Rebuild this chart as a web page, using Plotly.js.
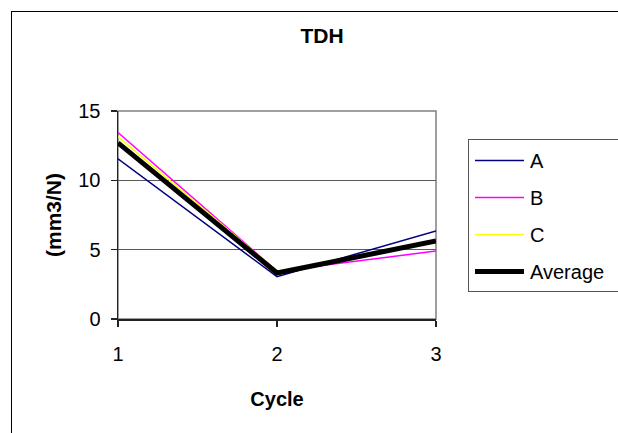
<!DOCTYPE html>
<html>
<head>
<meta charset="utf-8">
<script src="https://cdn.plot.ly/plotly-3.0.1.min.js"></script>
<style>
html,body{margin:0;padding:0;background:#fff;overflow:hidden;}
#wrap{position:relative;width:618px;height:433px;overflow:hidden;}
#chart{width:618px;height:433px;}
.frame{position:absolute;pointer-events:none;box-sizing:border-box;}
#outer{left:11px;top:11px;width:607px;height:422px;border-left:1px solid #000;border-top:1px solid #000;}
#legbox{left:468px;top:139px;width:150px;height:153px;border-left:1px solid #555;border-top:1px solid #555;border-bottom:1px solid #555;}
</style>
</head>
<body>
<div id="wrap">
<div id="chart"></div>
<div id="outer" class="frame"></div>
<div id="legbox" class="frame"></div>
</div>
<script>
const cycles = [1, 2, 3];
const seriesA = [11.55, 3.05, 6.35];
const seriesB = [13.45, 3.45, 4.9];
const seriesC = [13.15, 3.45, 5.6];
const seriesAvg = [12.7, 3.32, 5.62];
const seriesNames = ['A', 'B', 'C', 'Average'];
const yTicks = [0, 5, 10, 15];
const xTicks = [1, 2, 3];

const FONT = 'Liberation Sans, Arial, sans-serif';
const W = 618, H = 433;
const L = 118, R = 182, T = 111, B = 114;

const traces = [
  {x: cycles, y: seriesA, name: seriesNames[0], mode: 'lines', line: {color: '#000080', width: 1.5}, legendgroup: 'a'},
  {x: cycles, y: seriesB, name: seriesNames[1], mode: 'lines', line: {color: '#FF00FF', width: 1.5}, legendgroup: 'b'},
  {x: cycles, y: seriesC, name: seriesNames[2], mode: 'lines', line: {color: '#FFFF00', width: 1.5}, legendgroup: 'c'},
  {x: cycles, y: seriesAvg, name: seriesNames[3], mode: 'lines', line: {color: '#000000', width: 5}, legendgroup: 'd'}
];

const layout = {
  width: W, height: H,
  margin: {l: L, r: R, t: T, b: B, pad: 0, autoexpand: false},
  paper_bgcolor: '#ffffff', plot_bgcolor: '#ffffff',
  font: {family: FONT, size: 20, color: '#000'},
  title: {text: '<b>TDH</b>', font: {family: FONT, size: 21, color: '#000'},
          xref: 'container', yref: 'container', x: 322 / W, xanchor: 'center',
          y: 1 - 35.5 / H, yanchor: 'middle'},
  xaxis: {range: [1, 3], tickvals: xTicks, ticktext: xTicks.map(String),
          showgrid: false, zeroline: false, showline: true, linecolor: '#222', linewidth: 1.5,
          ticks: 'outside', ticklen: 6, tickcolor: '#222', tickwidth: 1.5,
          tickfont: {family: FONT, size: 20, color: '#000'}, ticklabelstandoff: 10,
          title: {text: '<b>Cycle</b>', font: {family: FONT, size: 20, color: '#000'}, standoff: 28}},
  yaxis: {range: [0, 15], tickvals: yTicks, ticktext: yTicks.map(String),
          showgrid: true, gridcolor: '#5a5a5a', gridwidth: 1, zeroline: false,
          showline: true, linecolor: '#222', linewidth: 1.5,
          ticks: 'outside', ticklen: 6, tickcolor: '#222', tickwidth: 1.5,
          tickfont: {family: FONT, size: 20, color: '#000'}, ticklabelstandoff: 6,
          title: {text: '<b>(mm3/N)</b>', font: {family: FONT, size: 21, color: '#000'}, standoff: 11}},
  showlegend: true,
  legend: {x: 470 / W, y: 1 - 141 / H, xanchor: 'left', yanchor: 'top',
           xref: 'container', yref: 'container',
           bgcolor: 'rgba(0,0,0,0)', bordercolor: 'rgba(0,0,0,0)', borderwidth: 0,
           font: {family: FONT, size: 20, color: '#000'},
           traceorder: 'grouped', tracegroupgap: 8, itemwidth: 50},
  shapes: [
    {type: 'rect', xref: 'paper', yref: 'paper', x0: 0, x1: 1, y0: 0, y1: 1,
     line: {color: '#808080', width: 1.5}, layer: 'below'}
  ]
};

Plotly.newPlot('chart', traces, layout, {staticPlot: true, displayModeBar: false}).then(gd => {
  gd.querySelectorAll('.legend .traces path.js-line').forEach(p => p.setAttribute('d', 'M5,0h49'));
});
</script>
</body>
</html>
